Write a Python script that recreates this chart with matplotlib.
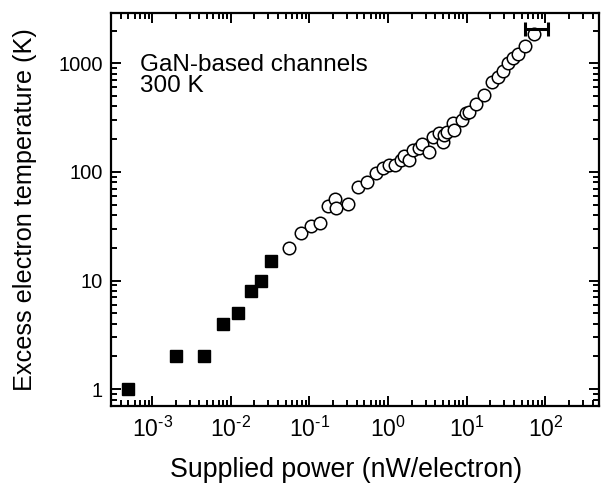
import matplotlib
matplotlib.use("Agg")
import matplotlib.pyplot as plt
import numpy as np
from matplotlib.ticker import LogLocator, FuncFormatter, NullFormatter, FixedLocator

plt.rcParams['font.family'] = ['Liberation Sans', 'DejaVu Sans']
plt.rcParams['mathtext.fontset'] = 'custom'
plt.rcParams['mathtext.rm'] = 'Liberation Sans'
plt.rcParams['mathtext.it'] = 'Liberation Sans:italic'
plt.rcParams['mathtext.bf'] = 'Liberation Sans:bold'

# Filled squares
sq_x = [5e-4, 2.0e-3, 4.5e-3, 8e-3, 0.0124, 0.018, 0.0245, 0.032]
sq_y = [1, 2, 2, 4, 5, 8, 10, 15]

# Open circles
ci_x = [0.0546, 0.0783, 0.105, 0.138, 0.174, 0.212, 0.218, 0.31, 0.42, 0.546,
        0.698, 0.871, 1.03, 1.23, 1.45, 1.60, 1.85, 2.10, 2.45, 2.73, 3.32,
        3.73, 4.45, 5.0, 5.1, 5.67, 6.7, 6.9, 8.8, 9.7, 10.7, 13.3, 16.6,
        21.1, 25.2, 28.9, 33.8, 39.1, 44.9, 55.1, 71.6]
ci_y = [20.1, 27.6, 32.0, 33.7, 48.9, 56.0, 46.3, 50.4, 73.1, 80.7,
        98.4, 108, 116, 116, 128.5, 140, 128.5, 159, 165, 181, 153,
        211, 226, 190, 217, 234, 280, 243, 300, 350, 358, 422, 509,
        676, 751, 848, 1011, 1110, 1207, 1440, 1857]

# Horizontal error bar at top
err_x = 77.0
err_y = 2060.0
err_lo = 54.5
err_hi = 108.5

x_ticks = [1e-3, 1e-2, 1e-1, 1e0, 1e1, 1e2]
y_ticks = [1, 10, 100, 1000]
y_ticklabels = ['1', '10', '100', '1000']

fig = plt.figure(figsize=(6.02, 4.86), dpi=100)
ax = fig.add_axes([0.1844, 0.1646, 0.8106, 0.8087])

ax.plot(sq_x, sq_y, linestyle='none', marker='s', markersize=8.6,
        markerfacecolor='black', markeredgecolor='black')
ax.plot(ci_x, ci_y, linestyle='none', marker='o', markersize=9.0,
        markerfacecolor='white', markeredgecolor='black', markeredgewidth=1.1)
ax.errorbar([err_x], [err_y], xerr=[[err_x - err_lo], [err_hi - err_x]],
            fmt='none', ecolor='black', elinewidth=2.2, capsize=4.8, capthick=2.2)

ax.set_xscale('log')
ax.set_yscale('log')
ax.set_xlim(3e-4, 480)
ax.set_ylim(0.70, 2900)


def xfmt(v, pos):
    e = int(round(np.log10(v)))
    return r'$10^{\text{%d}}$' % e


ax.xaxis.set_major_locator(FixedLocator(x_ticks))
ax.xaxis.set_minor_locator(LogLocator(base=10, subs=range(2, 10), numticks=20))
ax.xaxis.set_major_formatter(FuncFormatter(xfmt))
ax.xaxis.set_minor_formatter(NullFormatter())
ax.yaxis.set_major_locator(FixedLocator(y_ticks))
ax.yaxis.set_minor_locator(LogLocator(base=10, subs=range(2, 10), numticks=20))
ax.set_yticklabels(y_ticklabels)
ax.yaxis.set_minor_formatter(NullFormatter())

for s in ax.spines.values():
    s.set_linewidth(1.6)
ax.tick_params(which='both', direction='in', top=True, right=True, width=1.4)
ax.tick_params(which='major', length=7)
ax.tick_params(which='minor', length=4)
ax.tick_params(axis='x', which='major', pad=8, labelsize=16.5)
ax.tick_params(axis='y', which='major', pad=6, labelsize=14.5)

ax.set_xlabel('Supplied power (nW/electron)', fontsize=19.3)
ax.xaxis.set_label_coords(0.482, -0.13)
ax.set_ylabel('Excess electron temperature (K)', fontsize=18.2)
ax.yaxis.set_label_coords(-0.152, 0.5)

ax.text(0.06, 0.852, 'GaN-based channels', transform=ax.transAxes, fontsize=17.5,
        ha='left', va='baseline')
ax.text(0.06, 0.799, '300 K', transform=ax.transAxes, fontsize=17.5,
        ha='left', va='baseline')

fig.savefig('out.png', dpi=100)
